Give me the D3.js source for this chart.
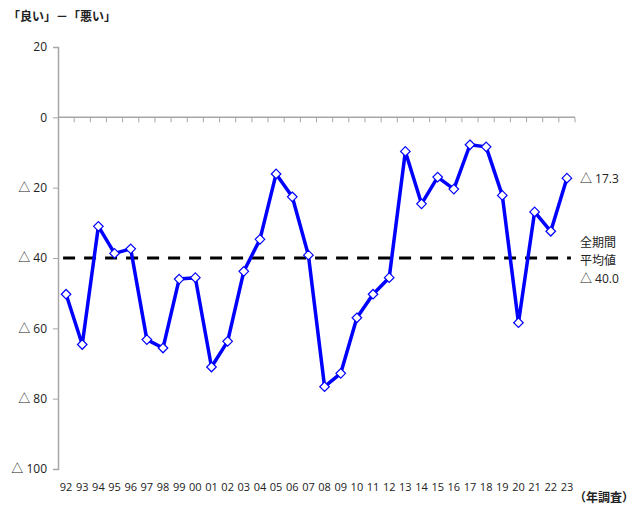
<!DOCTYPE html>
<html>
<head>
<meta charset="utf-8">
<script src="https://cdn.jsdelivr.net/npm/d3@7"></script>
<style>
  body { margin: 0; background: #fff; }
  text { font-family: "Open Sans", "Noto Sans CJK JP", sans-serif; fill: #222; }
</style>
</head>
<body>
<svg width="640" height="508"></svg>
<script>
const years = ['92', '93', '94', '95', '96', '97', '98', '99', '00', '01', '02', '03', '04', '05', '06', '07',
  '08', '09', '10', '11', '12', '13', '14', '15', '16', '17', '18', '19', '20', '21', '22', '23'];
const values = [-50.3, -64.6, -31.0, -38.7, -37.4, -63.2, -65.6, -46.0, -45.6, -71.0, -63.7, -43.8, -34.7, -16.1,
  -22.6, -39.2, -76.6, -72.8, -57.0, -50.3, -45.6, -9.7, -24.6, -17.0, -20.4, -7.8, -8.4, -22.2, -58.4, -26.9,
  -32.4, -17.3];
const average = -40.0;
const yTicks = [20, 0, -20, -40, -60, -80, -100];

const svg = d3.select('svg');
// negative numbers are written with a triangle, Japanese style
const fmt = v => (v < 0 ? '△ ' + Math.abs(v) : String(v));

const x = d3.scaleBand().domain(years).range([58, 575]);
const y = d3.scaleLinear().domain([-100, 20]).range([469, 47]);
const cx = d => x(d) + x.bandwidth() / 2;

// y axis
svg.append('g')
  .attr('transform', 'translate(58,0)')
  .call(d3.axisLeft(y).tickValues(yTicks).tickSize(5).tickPadding(6).tickFormat(fmt))
  .call(g => g.select('.domain').attr('stroke', '#a6a6a6').attr('stroke-width', 1.5))
  .call(g => g.selectAll('.tick line').attr('stroke', '#a6a6a6'))
  .call(g => g.selectAll('.tick text').attr('font-size', 12).attr('fill', '#222')
    .style('font-family', '"Open Sans", "Noto Sans CJK JP", sans-serif'));

// zero line with category ticks
const zero = svg.append('g').attr('transform', `translate(0,${y(0)})`);
zero.append('line')
  .attr('x1', 58).attr('x2', 575)
  .attr('stroke', '#a6a6a6').attr('stroke-width', 1.5);
zero.selectAll('.ct')
  .data(years)
  .join('line')
  .attr('x1', d => x(d) + x.bandwidth())
  .attr('x2', d => x(d) + x.bandwidth())
  .attr('y1', 0).attr('y2', 5)
  .attr('stroke', '#a6a6a6');

// x labels
svg.append('g').selectAll('text')
  .data(years)
  .join('text')
  .attr('x', d => cx(d))
  .attr('y', 491)
  .attr('text-anchor', 'middle')
  .attr('font-size', 11)
  .text(d => d);

// average dashed line
svg.append('line')
  .attr('x1', cx(years[0]) - 3)
  .attr('x2', cx(years[years.length - 1]) + 4)
  .attr('y1', y(average)).attr('y2', y(average))
  .attr('stroke', '#000').attr('stroke-width', 3.2)
  .attr('stroke-dasharray', '12,9');

// series line
const line = d3.line().x((d, i) => cx(years[i])).y(d => y(d));
svg.append('path')
  .datum(values)
  .attr('d', line)
  .attr('fill', 'none')
  .attr('stroke', '#0000ff')
  .attr('stroke-width', 3.5)
  .attr('stroke-linejoin', 'round');

// markers
svg.append('g').selectAll('path')
  .data(values)
  .join('path')
  .attr('d', d3.symbol().type(d3.symbolDiamond2).size(58))
  .attr('transform', (d, i) => `translate(${cx(years[i])},${y(d)})`)
  .attr('fill', '#fff')
  .attr('stroke', '#0000ff')
  .attr('stroke-width', 1.2);

// titles and notes
svg.append('text').attr('x', 8).attr('y', 21)
  .attr('font-size', 12).attr('font-weight', 'bold')
  .text('「良い」－「悪い」');
svg.append('text').attr('x', 634).attr('y', 502)
  .attr('text-anchor', 'end')
  .attr('font-size', 12).attr('font-weight', 'bold')
  .text('（年調査）');

const last = values[values.length - 1];
svg.append('text').attr('x', 580).attr('y', y(last) + 5)
  .attr('font-size', 12).text(fmt(last));
const note = svg.append('text').attr('font-size', 12);
['全期間', '平均値', '△ ' + Math.abs(average).toFixed(1)].forEach((t, i) => {
  note.append('tspan').attr('x', 580).attr('y', y(average) - 11 + i * 18).text(t);
});
</script>
</body>
</html>
